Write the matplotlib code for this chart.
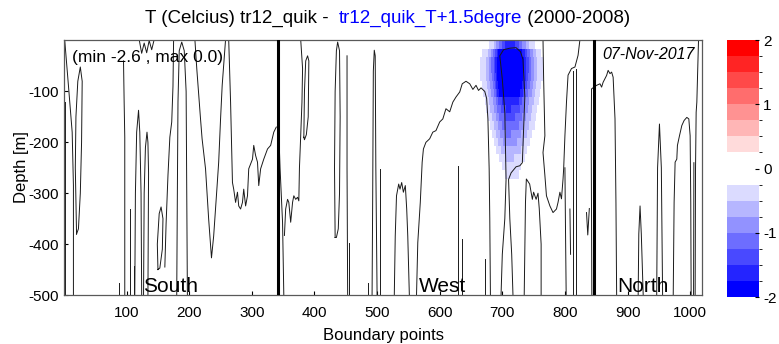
import numpy as np
import matplotlib
matplotlib.use("Agg")
import matplotlib.pyplot as plt
from matplotlib.colors import ListedColormap, BoundaryNorm
from matplotlib.cm import ScalarMappable

plt.rcParams['font.family'] = ['Liberation Sans', 'DejaVu Sans']
plt.rcParams['axes.unicode_minus'] = False

# --- data ------------------------------------------------------------------
x_ticks = [100, 200, 300, 400, 500, 600, 700, 800, 900, 1000]
y_ticks = [-500, -400, -300, -200, -100]
section_breaks = [341, 847]
section_names = ["South", "West", "North"]
section_label_x = [126, 566, 884]

# temperature difference field (blob), columns x and model layers
blob_x = [665, 675, 685, 695, 705, 715, 725, 735, 745, 755, 765, 775]
blob_depth_edges = [0, -16, -32, -48, -64, -80, -96, -112, -128, -144, -160,
                    -176, -192, -208, -224, -240, -256, -272]
blob_T = [
    [0.0, -0.15, -0.45, -1.1, -1.6, -1.7, -1.4, -0.9, -0.45, -0.2, 0.0, 0.0],
    [-0.2, -0.45, -1.0, -2.0, -2.5, -2.5, -2.3, -1.6, -1.0, -0.5, -0.2, 0.0],
    [-0.25, -0.55, -1.2, -2.2, -2.6, -2.6, -2.5, -1.8, -1.1, -0.55, -0.25, 0.0],
    [-0.25, -0.55, -1.2, -2.2, -2.6, -2.6, -2.5, -1.8, -1.1, -0.55, -0.25, 0.0],
    [-0.25, -0.55, -1.1, -2.1, -2.6, -2.6, -2.4, -1.7, -1.05, -0.55, -0.25, 0.0],
    [-0.2, -0.5, -1.05, -2.0, -2.5, -2.5, -2.2, -1.6, -0.95, -0.5, -0.2, 0.0],
    [-0.15, -0.45, -0.95, -1.8, -2.2, -2.2, -2.0, -1.4, -0.85, -0.45, -0.15, 0.0],
    [-0.1, -0.35, -0.8, -1.4, -1.7, -1.7, -1.6, -1.1, -0.7, -0.35, -0.1, 0.0],
    [0.0, -0.3, -0.7, -1.2, -1.5, -1.5, -1.4, -1.0, -0.6, -0.3, 0.0, 0.0],
    [0.0, -0.2, -0.6, -1.05, -1.3, -1.35, -1.2, -0.9, -0.55, -0.25, 0.0, 0.0],
    [0.0, -0.1, -0.45, -0.9, -1.15, -1.2, -1.05, -0.75, -0.45, -0.2, 0.0, 0.0],
    [0.0, 0.0, -0.35, -0.75, -1.0, -1.0, -0.9, -0.65, -0.35, -0.1, 0.0, 0.0],
    [0.0, 0.0, -0.2, -0.6, -0.85, -0.85, -0.75, -0.5, -0.25, 0.0, 0.0, 0.0],
    [0.0, 0.0, -0.1, -0.45, -0.7, -0.7, -0.6, -0.4, -0.15, 0.0, 0.0, 0.0],
    [0.0, 0.0, 0.0, -0.3, -0.55, -0.55, -0.45, -0.3, 0.0, 0.0, 0.0, 0.0],
    [0.0, 0.0, 0.0, -0.15, -0.4, -0.4, -0.35, -0.15, 0.0, 0.0, 0.0, 0.0],
    [0.0, 0.0, 0.0, 0.0, -0.3, -0.3, -0.3, 0.0, 0.0, 0.0, 0.0, 0.0],
]

# thin black contour traces: (boundary point, depth)
traces = [
    ([1, 1], [-120, -499]),
    ([1, 7, 13, 15, 15], [2, -88, -180, -285, -499]),
    ([20, 18, 19, 22, 26, 29, 28, 26, 23, 20], [-380, -250, -150, -80, -52, -80, -200, -300, -370, -380]),
    ([95, 96, 97, 97], [-40, -120, -190, -499]),
    ([87, 87], [-476, -499]),
    ([106, 106], [-331, -499]),
    ([111, 111], [-443, -499]),
    ([113, 114, 116, 119, 121, 123, 124], [-499, -300, -180, -137, -180, -300, -499]),
    ([127, 128, 130, 132.5, 134, 135, 134], [-499, -300, -210, -180, -200, -260, -499]),
    ([150, 149, 152, 155, 158, 157, 153, 150], [-450, -400, -340, -327, -350, -410, -447, -450]),
    ([120, 124, 128, 132, 136, 140, 144], [2, -25, -5, -24, 0, -18, 2]),
    ([175, 174, 172, 169, 166, 163, 161], [2, -90, -160, -190, -265, -360, -445]),
    ([180, 181, 182, 184, 188, 192, 195, 196, 197], [-499, -300, -120, -20, -3, -20, -100, -300, -499]),
    ([209, 212, 218, 220.5, 226, 231, 235.5, 239, 244.5, 247, 250, 252.6, 258],
     [2, -55, -154, -193, -252, -351, -427, -384, -285, -239, -154, -88, 2]),
    ([263, 266, 269, 271, 274, 277, 279, 282, 285, 287, 290, 293, 295, 301, 303, 306, 309, 311, 314, 319, 325, 330, 335, 339],
     [2, -121, -279, -292, -318, -298, -325, -331, -318, -292, -325, -305, -252, -233, -206, -226, -239, -285, -252, -233, -213, -206, -180, -170]),
    ([343, 345, 349, 351], [-180, -250, -357, -499]),
    ([352, 354, 357, 359, 362, 365, 367, 370, 373, 375, 376, 378, 380, 381, 378],
     [-383, -331, -312, -318, -357, -318, -305, -312, -308, -315, -250, -187, -121, -55, 2]),
    ([383, 384, 386, 389, 391, 390, 387, 384, 383], [-190, -100, -40, -30, -40, -150, -185, -195, -190]),
    ([433, 432, 433, 435, 437, 440, 441, 440, 438, 435, 433], [-387, -250, -100, -20, -3, -20, -150, -300, -370, -387, -387]),
    ([452, 452, 453], [-30, -250, -499]),
    ([455.5, 455.5], [-397, -499]),
    ([486, 486], [-476, -499]),
    ([492, 493, 494, 495.5, 497, 498, 500], [-499, -300, -60, -19, -30, -250, -499]),
    ([504, 504], [-252, -499]),
    ([527.5, 529, 531, 534.5, 536.6, 539.3, 542, 545.1, 547.3, 549, 551.5],
     [-499, -384, -305, -282, -292, -279, -298, -285, -331, -384, -499]),
    ([563, 565, 569, 572, 574, 578, 584, 589, 594, 600, 605, 610, 616, 621, 626, 632, 636, 642, 648, 653, 658, 662, 666, 672, 675, 677, 679, 680, 681],
     [-499, -397, -318, -239, -213, -200, -193, -180, -177, -160, -154, -134, -140, -121, -111, -101, -85, -80, -85, -96, -88, -98, -93, -100, -114, -154, -252, -351, -499]),
    ([629, 629], [-246, -499]),
    ([636, 636], [-390, -499]),
    ([672, 672], [-430, -499]),
    ([698, 700, 704, 706, 705, 704, 700, 696, 702, 712, 722, 729, 733, 736, 734, 732, 728, 722, 714, 710, 712, 715, 717],
     [-499, -420, -350, -273, -208, -141, -76, -30, -18, -15, -14, -22, -37, -110, -175, -240, -246, -248, -260, -273, -350, -420, -499]),
    ([735, 737, 738.4, 743.7, 748, 750, 754, 757, 759, 762, 762],
     [-499, -318, -272, -282, -312, -298, -312, -300, -330, -400, -499]),
    ([765, 766, 768, 765, 768, 770.5, 776, 781, 786.5, 789, 792, 794.5, 797, 798, 800, 802.5, 805, 810.5, 816, 821, 824],
     [2, -75, -187, -220, -265, -305, -325, -338, -331, -318, -298, -311, -272, -252, -187, -121, -68, -55, -52, -29, 2]),
    ([800, 801, 802], [-250, -380, -499]),
    ([808, 809], [-331, -420]),
    ([813, 813], [-60, -499]),
    ([817.5, 817.5], [-55, -499]),
    ([834.5, 836.5, 839], [-338, -382, -330]),
    ([843, 842, 842.5, 850.6, 856, 858.6, 861, 866.6, 869, 872, 874.6, 877, 880, 881.5, 882.6],
     [-499, -187, -95, -88, -85, -91.5, -82, -68.5, -58.6, -65, -62, -72, -154, -318, -499]),
    ([917, 918, 920, 922, 925], [-499, -380, -325, -380, -499]),
    ([946.6, 948, 951, 954, 956], [-499, -250, -164, -250, -499]),
    ([973, 974.4, 976, 978.7, 979.7, 983, 986.7, 990.4, 994.7, 997.9, 1000, 1001, 1001.6],
     [-499, -318, -239, -233, -206, -187, -167, -157, -151, -154, -187, -318, -499]),
    ([1013.4, 1010.7, 1009.6, 1008.6, 1008], [2, -121, -141, -252, -499]),
    ([1006, 1005.5], [-240, -499]),
]

# --- colormap: 16 bands from blue through white to red -----------------------
levels = np.arange(-2, 2.01, 0.25)
blue_side = [(i / 7, i / 7, 1.0) for i in range(8)]
red_side = [(1.0, 1 - j / 7, 1 - j / 7) for j in range(8)]
cmap = ListedColormap(blue_side + red_side)
cmap.set_under((0, 0, 1))
cmap.set_over((1, 0, 0))
norm = BoundaryNorm(levels, cmap.N)

fig = plt.figure(figsize=(7.79, 3.44), dpi=100)
ax = fig.add_axes([0.0822, 0.1424, 0.819, 0.7427])
cax = fig.add_axes([0.9333, 0.1366, 0.0411, 0.747])

# layers drawn as flat steps in depth
T = np.array(blob_T)
edges = np.array(blob_depth_edges, dtype=float)
Z = np.repeat(T, 2, axis=0)
yy = np.empty(2 * len(T))
yy[0::2] = edges[:-1]
yy[1::2] = edges[1:] + 0.01
XX, YY = np.meshgrid(blob_x, yy)
ax.contourf(XX, YY, Z, levels=levels, cmap=cmap, norm=norm, extend='both', zorder=1)

for xs, ds in traces:
    ax.plot(xs, ds, color='0.1', lw=0.7, zorder=2)
for xb in section_breaks:
    ax.axvline(xb, color='k', lw=2.2, zorder=3)

ax.set_xlim(0, 1019)
ax.set_ylim(-500, 2)
ax.set_xticks(x_ticks)
ax.set_yticks(y_ticks)
ax.tick_params(direction='in', length=3, labelsize=11, colors='k')
ax.tick_params(axis='x', pad=8)
for s in ax.spines.values():
    s.set_color('0.35')
    s.set_linewidth(0.9)
ax.set_xlabel('Boundary points', fontsize=12, labelpad=6)
ax.set_ylabel('Depth [m]', fontsize=12, labelpad=0)

for name, xl in zip(section_names, section_label_x):
    ax.text(xl, -494, name, fontsize=15, va='baseline', ha='left', zorder=4)

ax.text(0.0125, 0.93, '(min -2.6 , max 0.0)', transform=ax.transAxes,
        fontsize=12.5, va='center', ha='left', zorder=4)
ax.text(0.989, 0.94, '07-Nov-2017', transform=ax.transAxes, fontsize=11.5,
        style='italic', va='center', ha='right', zorder=4)

# title in three colours
t1 = fig.text(0.1855, 0.946, 'T (Celcius) tr12_quik -  ', fontsize=13.5, va='center', ha='left')
t2 = fig.text(0, 0, 'tr12_quik_T+1.5degre', fontsize=13.5, color='blue')
t3 = fig.text(0, 0, ' (2000-2008)', fontsize=13.5)
fig.canvas.draw()
r = fig.canvas.get_renderer()
e1 = t1.get_window_extent(r)
t2.set_position(fig.transFigure.inverted().transform((e1.x1, e1.y0)))
t2.set_va('bottom')
fig.canvas.draw()
e2 = t2.get_window_extent(r)
t3.set_position(fig.transFigure.inverted().transform((e2.x1, e2.y0)))
t3.set_va('bottom')

cb = fig.colorbar(ScalarMappable(norm=norm, cmap=cmap), cax=cax, ticks=[-2, -1, 0, 1, 2])
cb.outline.set_visible(False)
cb.ax.tick_params(direction='in', length=3, labelsize=11, pad=3)
cb.ax.set_yticklabels(['-2', '-1', '0', '1', '2'])

fig.savefig('out.png', dpi=100)
